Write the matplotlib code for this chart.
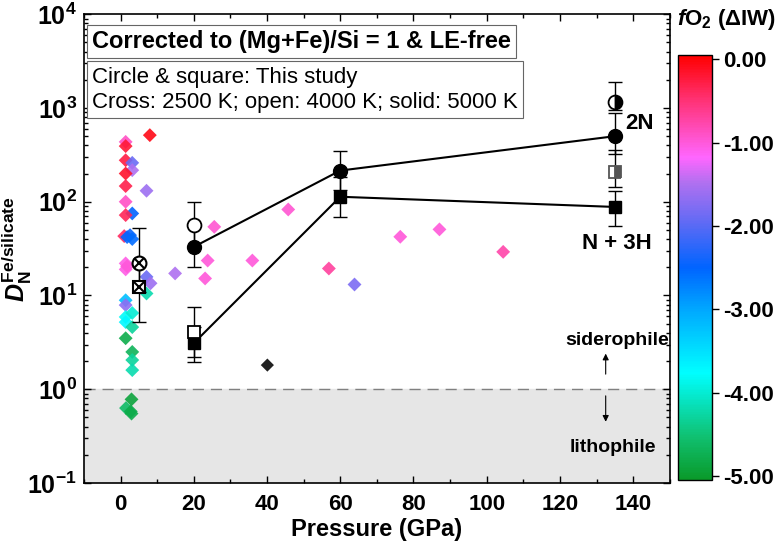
import numpy as np
import matplotlib
matplotlib.use("Agg")
from matplotlib import pyplot as plt
from matplotlib.colors import LinearSegmentedColormap, Normalize
from matplotlib.ticker import MultipleLocator, LogLocator, NullFormatter

plt.rcParams['font.family'] = ['Liberation Sans', 'DejaVu Sans']
plt.rcParams['font.weight'] = 'bold'
plt.rcParams['mathtext.fontset'] = 'custom'
plt.rcParams['mathtext.rm'] = 'Liberation Sans:bold'
plt.rcParams['mathtext.it'] = 'Liberation Sans:italic:bold'
plt.rcParams['mathtext.bf'] = 'Liberation Sans:bold'

# literature data (diamonds), P in GPa, D, fO2 (dIW)
lit_P = [8.0, 1.4, 1.4, 1.4, 3.2, 3.2, 1.4, 1.4, 7.1, 1.4, 3.2, 1.4, 25.6,
         1.0, 1.8, 2.6, 3.2, 23.8, 36.0, 1.4, 1.4, 1.8, 14.9, 23.1, 7.1, 8.2,
         7.1, 1.4, 1.4, 1.4, 3.2, 1.4, 3.2, 1.4, 3.2, 3.2, 3.2,
         3.0, 1.5, 2.8, 3.0, 45.8, 56.9, 63.9, 76.4, 87.1, 104.5]
lit_D = [513, 435, 392, 277, 260, 217, 200, 147, 131, 100, 75, 72, 54,
         43, 42, 44, 40, 23.6, 23.6, 22, 19, 20.5, 17.2, 15.2, 15.8, 13.5,
         10.5, 8.9, 7.9, 5.9, 6.5, 5.2, 4.6, 3.5, 2.5, 2.05, 1.6,
         0.78, 0.63, 0.58, 0.55, 82.7, 19.4, 13.1, 42.3, 50.7, 29.2]
lit_fo2 = [-0.05, -0.9, -0.2, -0.25, -1.9, -1.5, -0.15, -0.3, -1.6, -0.9, -2.5, -0.35, -0.95,
           -0.4, -2.5, -2.45, -2.55, -1.0, -1.0, -1.05, -1.05, -1.0, -1.5, -1.0, -1.9, -1.6,
           -4.2, -3.2, -1.7, -3.8, -4.0, -3.7, -4.3, -4.8, -4.7, -4.3, -4.2,
           -4.9, -4.6, -4.8, -4.8, -0.95, -0.7, -1.8, -1.0, -1.0, -0.75]
black_P = [40.1]
black_D = [1.81]

# this study
P_study = [20, 60, 135]
circ_D = [33, 215, 500]
circ_lo = [20.2, 135, 321]
circ_hi = [56, 350, 881]
sq_D = [3.1, 113, 88]
sq_lo = [1.96, 69, 55]
sq_hi = [4.6, 185, 131]

open_circ_P = [20]
open_circ_D = [56]
open_circ_lo = [33]
open_circ_hi = [100]
open_sq_P = [20]
open_sq_D = [4.1]
open_sq_lo = [2.2]
open_sq_hi = [7.5]

half_circ_P = [135]
half_circ_D = [1160]
half_circ_lo = [949]
half_circ_hi = [1897]
half_sq_P = [135]
half_sq_D = [210]
half_sq_lo = [144]
half_sq_hi = [355]

cross_P = [5, 5]
cross_D = [22, 12.4]
cross_lo = [11, 5.2]
cross_hi = [52, 22]

cmap = LinearSegmentedColormap.from_list('fo2', [
    (0.0, '#0a9a2a'), (0.1, '#10c070'), (0.25, '#00ffff'), (0.4, '#00a8ff'),
    (0.5, '#0064ff'), (0.6, '#5a6af5'), (0.7, '#b070f0'), (0.76, '#ff66ff'),
    (0.9, '#ff3070'), (1.0, '#ff0000')])
norm = Normalize(vmin=-5.05, vmax=0.05)

fig = plt.figure(figsize=(7.77, 5.47), dpi=100)
ax = fig.add_axes([0.108, 0.117, 0.754, 0.857])
cax = fig.add_axes([0.872, 0.1225, 0.044, 0.7765])

ax.axhspan(0.1, 1, color='#e6e6e6', zorder=0)
ax.axhline(1, color='#808080', lw=1, dashes=(8, 5), zorder=1)

ax.scatter(lit_P, lit_D, c=lit_fo2, cmap=cmap, norm=norm, marker='D', s=50,
           edgecolors='none', alpha=0.9, zorder=2)
ax.scatter(black_P, black_D, c='#222222', marker='D', s=45, edgecolors='none', zorder=2)


def err(x, y, lo, hi):
    y = np.array(y)
    ax.errorbar(x, y, yerr=[y - np.array(lo), np.array(hi) - y], fmt='none',
                ecolor='black', elinewidth=1, capsize=5, capthick=1, zorder=3)


for d in [(P_study, circ_D, circ_lo, circ_hi), (P_study, sq_D, sq_lo, sq_hi),
          (open_circ_P, open_circ_D, open_circ_lo, open_circ_hi),
          (open_sq_P, open_sq_D, open_sq_lo, open_sq_hi),
          (half_circ_P, half_circ_D, half_circ_lo, half_circ_hi),
          (half_sq_P, half_sq_D, half_sq_lo, half_sq_hi),
          (cross_P, cross_D, cross_lo, cross_hi)]:
    err(*d)

ax.plot(P_study, circ_D, '-', color='black', lw=1.5, zorder=4)
ax.plot(P_study, sq_D, '-', color='black', lw=1.5, zorder=4)
ax.plot(P_study, circ_D, 'o', color='black', ms=10, zorder=5)
ax.plot(P_study, sq_D, 's', color='black', ms=9, zorder=5)
ax.plot(open_circ_P, open_circ_D, 'o', mfc='white', mec='black', mew=1.3, ms=10, zorder=5)
ax.plot(open_sq_P, open_sq_D, 's', mfc='white', mec='black', mew=1.3, ms=9, zorder=5)
ax.plot(half_circ_P, half_circ_D, 'o', fillstyle='right', mfc='black', mfcalt='white',
        mec='black', mew=1.3, ms=10, zorder=5)
ax.plot(half_sq_P, half_sq_D, 's', fillstyle='right', mfc='#555555', mfcalt='white',
        mec='#555555', mew=1.3, ms=9, zorder=5)
ax.plot(cross_P[:1], cross_D[:1], 'o', mfc='white', mec='black', mew=1.5, ms=10, zorder=5)
ax.plot(cross_P[1:], cross_D[1:], 's', mfc='white', mec='black', mew=1.5, ms=9, zorder=5)
ax.plot(cross_P, cross_D, 'x', color='black', mew=1.5, ms=7, zorder=6)

ax.text(141.8, 683, '2N', fontsize=16, fontweight='bold', ha='center', va='center')
ax.text(135.5, 36, 'N + 3H', fontsize=16, fontweight='bold', ha='center', va='center')
ax.text(135.5, 3.35, 'siderophile', fontsize=14, fontweight='bold', ha='center', va='center')
ax.text(134.5, 0.24, 'lithophile', fontsize=14, fontweight='bold', ha='center', va='center')
ax.annotate('', xy=(132.5, 2.4), xytext=(132.5, 1.45),
            arrowprops=dict(arrowstyle='-|>', color='black', lw=0.8, mutation_scale=9,
                            shrinkA=0, shrinkB=0))
ax.annotate('', xy=(132.5, 0.45), xytext=(132.5, 0.85),
            arrowprops=dict(arrowstyle='-|>', color='black', lw=0.8, mutation_scale=9,
                            shrinkA=0, shrinkB=0))

ax.text(0.014, 0.966, 'Corrected to (Mg+Fe)/Si = 1 & LE-free', transform=ax.transAxes,
        fontsize=17, fontweight='bold', ha='left', va='top',
        bbox=dict(boxstyle='square,pad=0.22', fc='white', ec='#666666', lw=0.8))
ax.text(0.014, 0.888, 'Circle & square: This study\nCross: 2500 K; open: 4000 K; solid: 5000 K',
        transform=ax.transAxes, fontsize=16, fontweight='normal', ha='left', va='top',
        linespacing=1.25,
        bbox=dict(boxstyle='square,pad=0.25', fc='white', ec='#666666', lw=0.8))

ax.set_yscale('log')
ax.set_ylim(0.1, 1e4)
ax.set_xlim(-10, 150)
ax.xaxis.set_major_locator(MultipleLocator(20))
ax.xaxis.set_minor_locator(MultipleLocator(10))
ax.yaxis.set_major_locator(LogLocator(base=10, numticks=10))
ax.yaxis.set_minor_locator(LogLocator(base=10, subs=np.arange(2, 10), numticks=10))
ax.yaxis.set_minor_formatter(NullFormatter())
ax.tick_params(which='both', direction='in', top=True, right=True, width=1)
ax.tick_params(which='major', length=5)
ax.tick_params(which='minor', length=3)
ax.tick_params(axis='x', labelsize=16, pad=8)
ax.tick_params(axis='y', labelsize=18, pad=5)
for s in ax.spines.values():
    s.set_linewidth(1.2)
ax.set_xlabel('Pressure (GPa)', fontsize=17, fontweight='bold', labelpad=2)
ax.set_ylabel(r'$D_\mathrm{N}^\mathrm{Fe/silicate}$', fontsize=18)
ax.yaxis.set_label_coords(-0.085, 0.5)

sm = plt.cm.ScalarMappable(cmap=cmap, norm=norm)
cb = fig.colorbar(sm, cax=cax, ticks=[0, -1, -2, -3, -4, -5], format='%.2f')
cb.outline.set_linewidth(1)
cax.tick_params(labelsize=16, length=5, width=1)
fig.text(0.935, 0.965, r'$f$O$_2$ ($\Delta$IW)', fontsize=16, fontweight='bold',
         ha='center', va='center')

fig.savefig('out.png', dpi=100)
